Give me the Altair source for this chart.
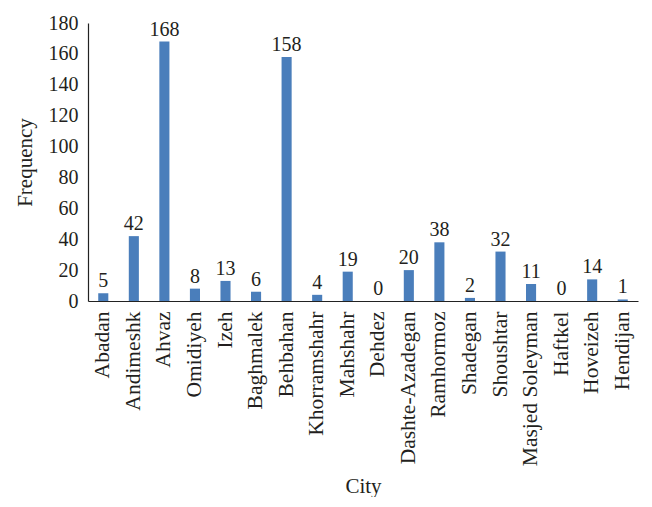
import altair as alt
import pandas as pd

cities = ["Abadan", "Andimeshk", "Ahvaz", "Omidiyeh", "Izeh", "Baghmalek", "Behbahan",
          "Khorramshahr", "Mahshahr", "Dehdez", "Dashte-Azadegan", "Ramhormoz", "Shadegan",
          "Shoushtar", "Masjed Soleyman", "Haftkel", "Hoveizeh", "Hendijan"]
freq = [5, 42, 168, 8, 13, 6, 158, 4, 19, 0, 20, 38, 2, 32, 11, 0, 14, 1]
yticks = [0, 20, 40, 60, 80, 100, 120, 140, 160, 180]

df = pd.DataFrame({"City": cities, "Frequency": freq})

FONT = "Liberation Serif"
TXT = "#231f20"

x = alt.X("City:N", sort=cities, title="City",
          scale=alt.Scale(paddingInner=0.67, paddingOuter=0.335),
          axis=alt.Axis(labelAngle=-90, labelAlign="right", labelBaseline="middle",
                        ticks=False, labelPadding=10, labelFontSize=21.5, labelFont=FONT,
                        labelColor=TXT, labelOverlap=False, titleFont=FONT, titleFontSize=21,
                        titleColor=TXT, titleFontWeight="normal", titleY=185,
                        titleBaseline="middle", domainColor="#222222", domainWidth=1.2))
y = alt.Y("Frequency:Q", title="Frequency",
          scale=alt.Scale(domain=[0, 180], nice=False),
          axis=alt.Axis(values=yticks, grid=False, ticks=False,
                        labelOverlap=False, labelPadding=10, labelFontSize=20, labelFont=FONT,
                        labelColor=TXT, titleFont=FONT, titleFontSize=21, titleColor=TXT,
                        titleFontWeight="normal", titleX=-63, titleBaseline="middle",
                        domainColor="#222222", domainWidth=1.2))

base = alt.Chart(df).encode(x=x, y=y)
bars = base.mark_bar(color="#4a7ebb")
labels = base.mark_text(font=FONT, fontSize=20, color=TXT, baseline="alphabetic",
                        dy=-6).encode(text="Frequency:Q")

chart = (bars + labels).properties(
    width=550, height=278,
    autosize=alt.AutoSizeParams(type="none"),
    padding={"left": 80, "top": 15, "right": 6, "bottom": 196},
    background="white",
).configure_view(stroke=None)

chart.save("out.html", embed_options={"renderer": "svg", "actions": False})
